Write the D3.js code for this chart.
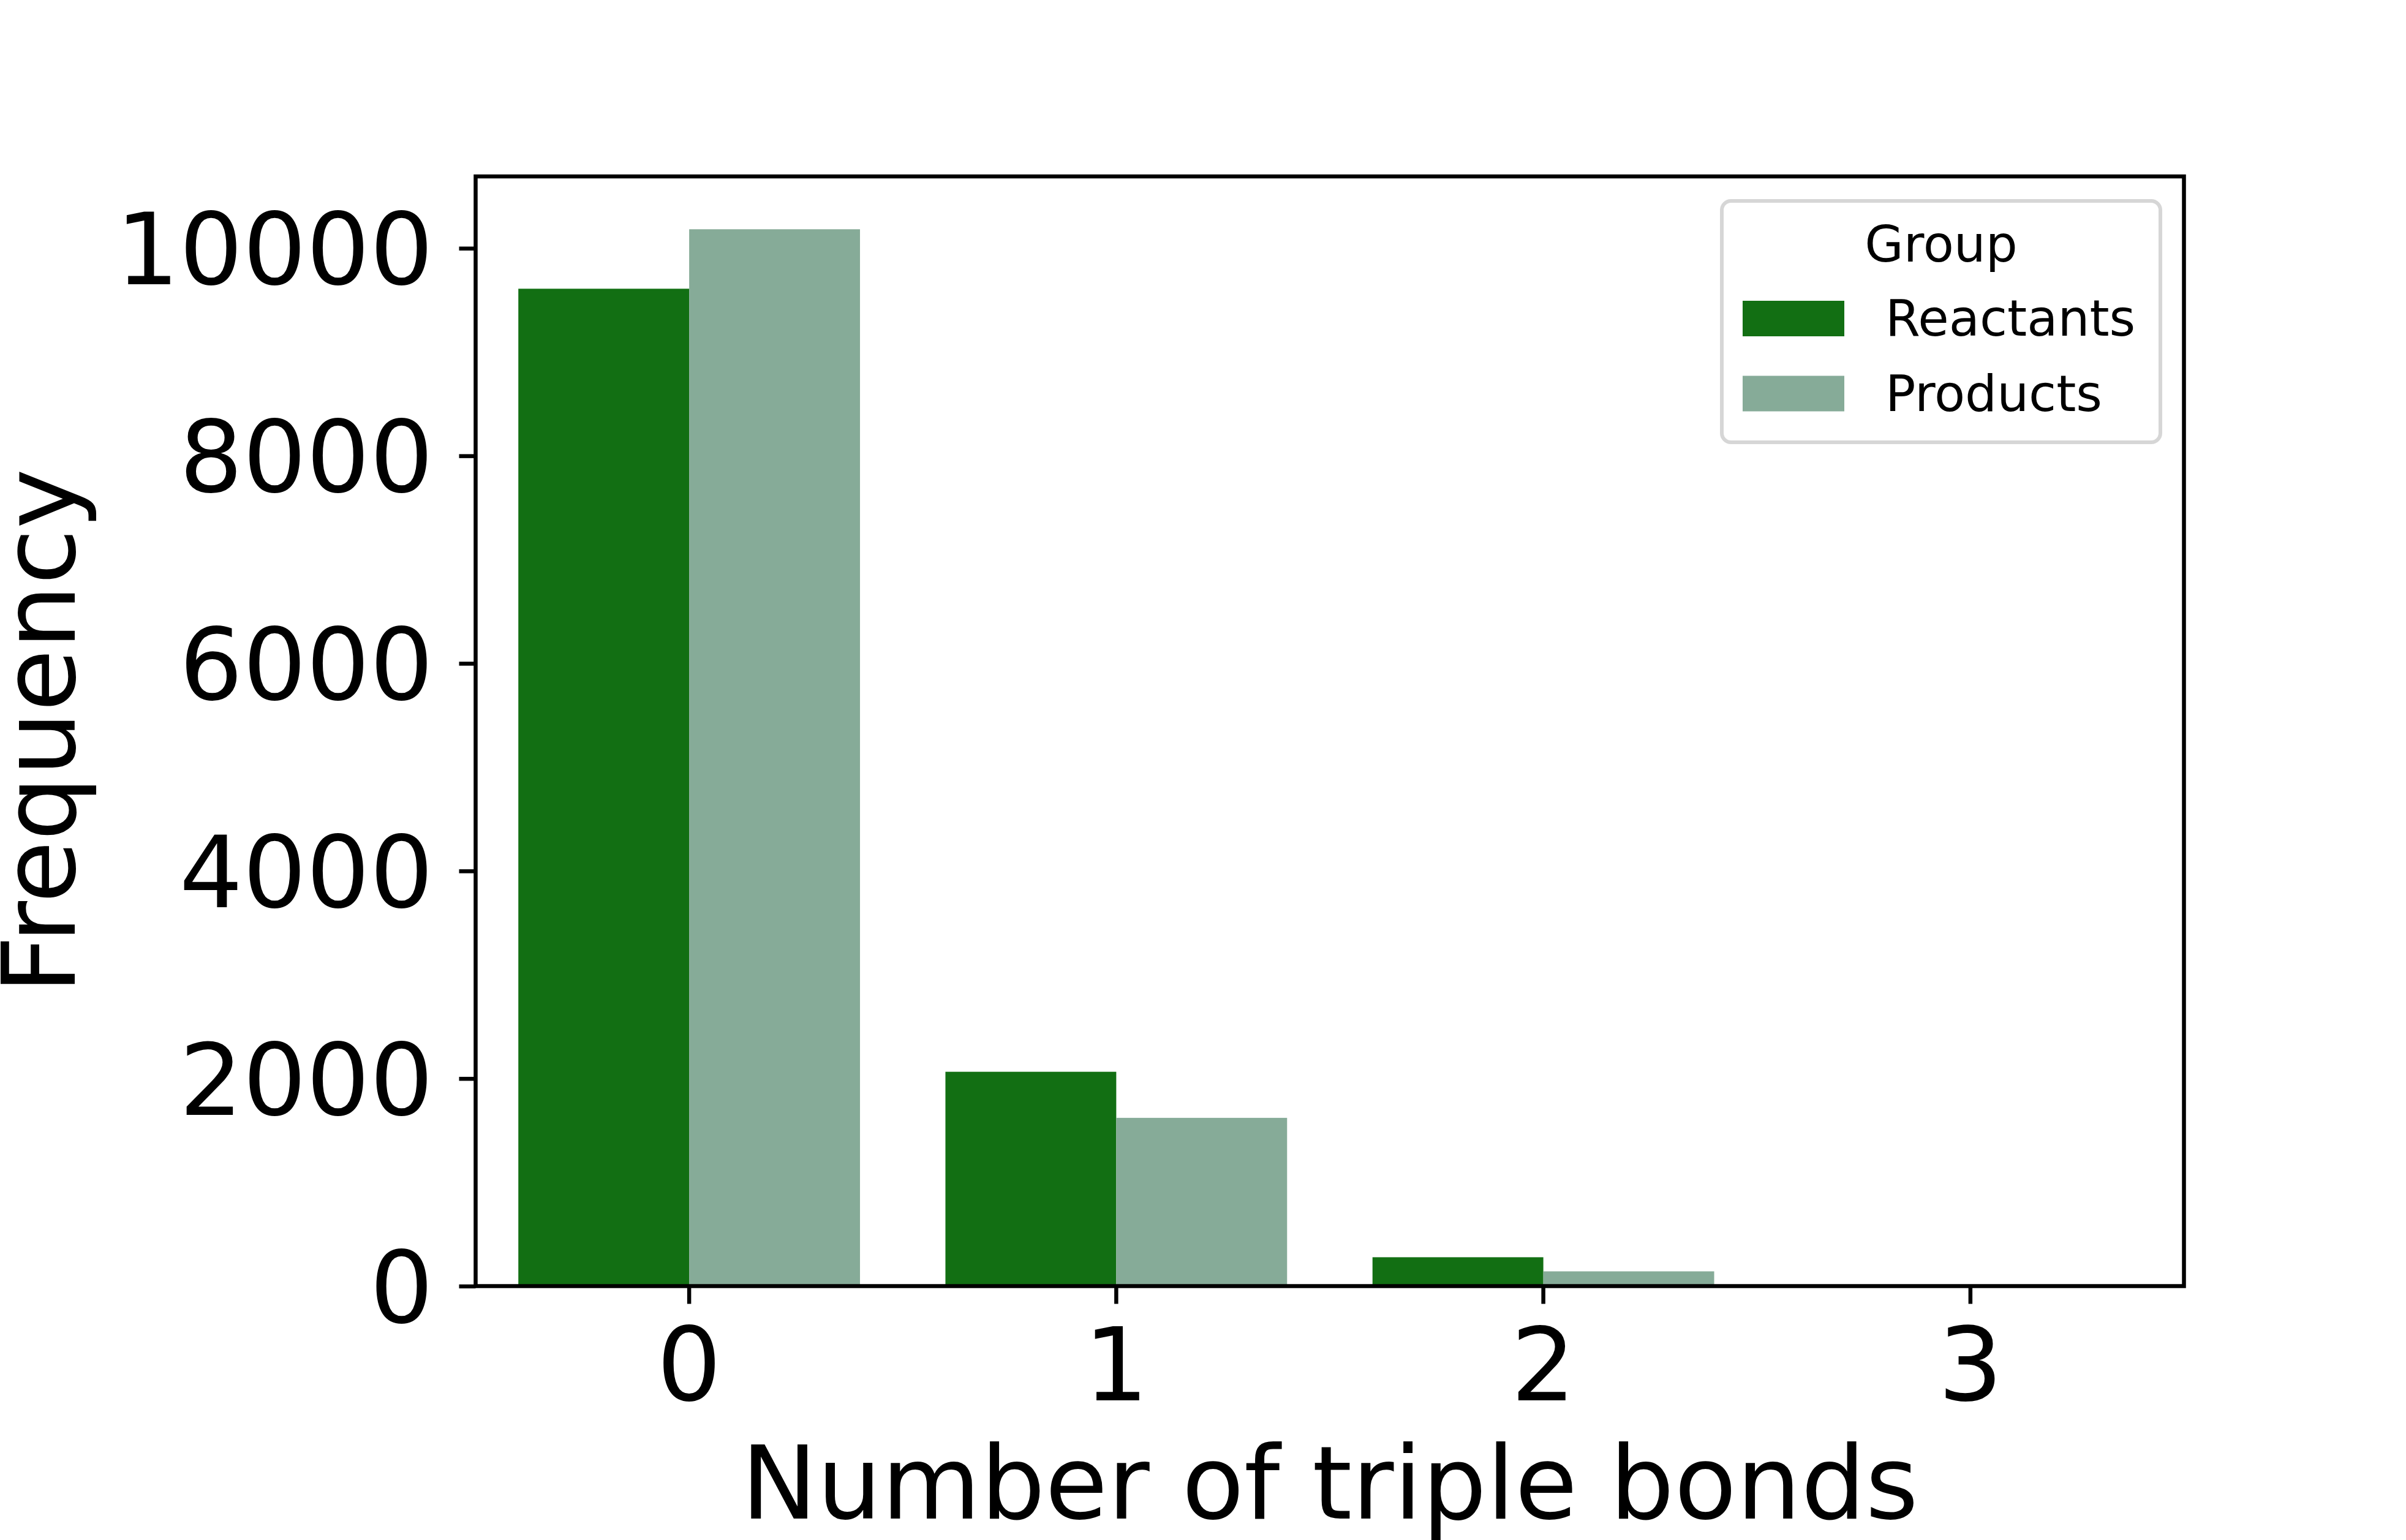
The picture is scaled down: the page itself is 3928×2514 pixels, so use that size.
<!DOCTYPE html>
<html>
<head>
<meta charset="utf-8">
<script src="https://cdn.jsdelivr.net/npm/d3@7/dist/d3.min.js"></script>
<style>
  body { margin: 0; background: #fff; }
  svg { display: block; font-family: "DejaVu Sans", sans-serif; }
</style>
</head>
<body>
<svg id="chart" width="3928" height="2514"></svg>
<script>
// data
const categories = ['0', '1', '2', '3'];
const groups = ['Reactants', 'Products'];
const reactants = [9610, 2065, 278, 2];
const products = [10183, 1621, 142, 1];
const yTicks = [0, 2000, 4000, 6000, 8000, 10000];
const colors = { Reactants: '#126f13', Products: '#86ab98' };

// layout
const svg = d3.select('#chart');
const margin = { top: 288, right: 3928 - 3565.5, bottom: 2514 - 2099.5, left: 776.5 };
const width = 3928 - margin.left - margin.right;
const height = 2514 - margin.top - margin.bottom;
const fontSize = 166;
const chartG = svg.append('g').attr('transform', `translate(${margin.left},${margin.top})`);

const rows = categories.map((c, i) => ({ cat: c, Reactants: reactants[i], Products: products[i] }));

const x = d3.scaleBand().domain(categories).range([0, width]).padding(0);
const xSub = d3.scaleBand().domain(groups).range([0, x.bandwidth()]).paddingInner(0).paddingOuter(0.25);
const yMax = d3.max([...reactants, ...products]) * 1.05;
const y = d3.scaleLinear().domain([0, yMax]).range([height, 0]);

// bars
chartG.selectAll('.cat')
  .data(rows)
  .enter().append('g')
    .attr('class', 'cat')
    .attr('transform', d => `translate(${x(d.cat)},0)`)
  .selectAll('rect')
  .data(d => groups.map(g => ({ group: g, value: d[g] })))
  .enter().append('rect')
    .attr('x', d => xSub(d.group))
    .attr('y', d => y(d.value))
    .attr('width', xSub.bandwidth())
    .attr('height', d => height - y(d.value))
    .attr('fill', d => colors[d.group]);

// axes
const yAxis = chartG.append('g')
  .call(d3.axisLeft(y).tickValues(yTicks).tickFormat(d3.format('d')).tickSize(27).tickPadding(42).tickSizeOuter(0));
const xAxis = chartG.append('g')
  .attr('transform', `translate(0,${height})`)
  .call(d3.axisBottom(x).tickSize(29).tickPadding(40).tickSizeOuter(0));

[yAxis, xAxis].forEach(a => {
  a.attr('font-family', '"DejaVu Sans", sans-serif').attr('font-size', fontSize);
  a.select('.domain').remove();
  a.selectAll('line').attr('stroke', '#000').attr('stroke-width', 6.5);
  a.selectAll('text').attr('fill', '#000');
});
yAxis.attr('font-size', 163);
yAxis.selectAll('text').attr('dy', '0.36em');

// frame
chartG.append('rect')
  .attr('x', 0).attr('y', 0)
  .attr('width', width).attr('height', height)
  .attr('fill', 'none').attr('stroke', '#000').attr('stroke-width', 6.5);

// axis titles
svg.append('text')
  .attr('x', margin.left + width / 2)
  .attr('y', 2479)
  .attr('text-anchor', 'middle')
  .style('font-size', fontSize + 'px')
  .text('Number of triple bonds');

svg.append('text')
  .attr('transform', `translate(122,${margin.top + height / 2}) rotate(-90)`)
  .attr('text-anchor', 'middle')
  .style('font-size', fontSize + 'px')
  .text('Frequency');

// legend
const legend = svg.append('g').attr('transform', 'translate(2811,328)');
legend.append('rect')
  .attr('width', 716).attr('height', 394).attr('rx', 15)
  .attr('fill', '#fff').attr('fill-opacity', 0.8)
  .attr('stroke', '#d6d6d6').attr('stroke-width', 6);
legend.append('text')
  .attr('x', 358).attr('y', 99)
  .attr('text-anchor', 'middle')
  .style('font-size', '82px')
  .text('Group');
const items = legend.selectAll('.item')
  .data(groups)
  .enter().append('g')
    .attr('class', 'item')
    .attr('transform', (d, i) => `translate(0,${163 + i * 122.5})`);
items.append('rect')
  .attr('x', 34).attr('width', 166).attr('height', 58)
  .attr('fill', d => colors[d]);
items.append('text')
  .attr('x', 267).attr('y', 57)
  .style('font-size', '82px')
  .text(d => d);
</script>
</body>
</html>
